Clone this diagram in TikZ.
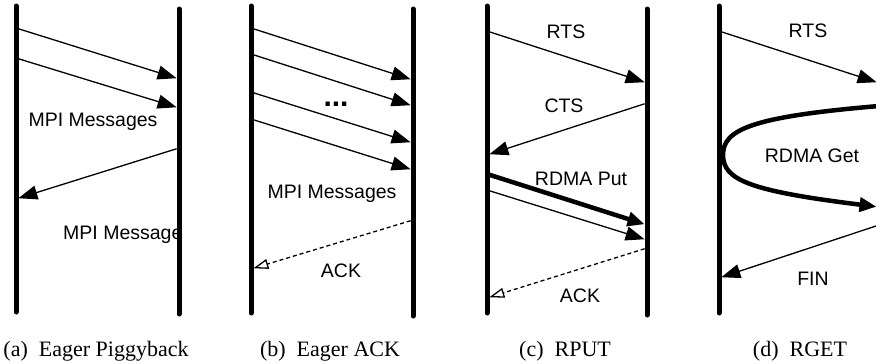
\documentclass[tikz,border=0pt]{standalone}
\usepackage{fontspec}
\setmainfont{Liberation Serif}
\setsansfont{Liberation Sans}
\usetikzlibrary{arrows.meta}

\tikzset{
  lifeline/.style={line width=5pt, line cap=round},
  msg/.style={line width=1.3pt, shorten <=2.5pt, shorten >=2.5pt,
    -{Triangle[length=19pt,width=14pt]}},
  bulk/.style={msg, line width=4.5pt, -{Triangle[length=17pt,width=14pt]}},
  ackmsg/.style={msg, dash pattern=on 4pt off 3pt,
    -{Triangle[open,length=15pt,width=10pt]}},
  lbl/.style={font=\sffamily\fontsize{19.5}{20}\selectfont, anchor=base, inner sep=0pt},
  capt/.style={font=\rmfamily\fontsize{22}{22}\selectfont, anchor=base, inner sep=0pt}
}

\begin{document}
\begin{tikzpicture}[x=1pt, y=-1pt]

    \useasboundingbox (0,0) rectangle (876,364);
    \clip (0,0) rectangle (876,364);

    % (a) eager piggyback
    \coordinate (aLt) at (16,6);   \coordinate (aLb) at (16,312);
    \coordinate (aRt) at (179,9);  \coordinate (aRb) at (179,314);
    \node[lbl] (aMsgs) at (93,126) {MPI Messages};
    \node[lbl, anchor=base west] (aMsg) at (63,239) {MPI Message};
    \draw[msg] (aLt |- 0,28) -- (aRt |- 0,79);
    \draw[msg] (aLt |- 0,58) -- (aRt |- 0,108);
    \draw[msg] (aRt |- 0,148) -- (aLt |- 0,199);
    \draw[lifeline] (aLt) -- (aLb);
    \draw[lifeline] (aRt) -- (aRb);
    \node[capt] (aCap) at (96,356) {(a)~ Eager Piggyback};

    % (b) eager ack
    \coordinate (bLt) at (251,6);  \coordinate (bLb) at (251,313);
    \coordinate (bRt) at (413,9);  \coordinate (bRb) at (413,316);
    \node[lbl, font=\sffamily\bfseries\fontsize{30}{30}\selectfont] (bDots) at (336,106) {...};
    \node[lbl] (bMsgs) at (332,198) {MPI Messages};
    \node[lbl] (bAck) at (341,277) {ACK};
    \draw[msg] (bLt |- 0,28) -- (bRt |- 0,80);
    \draw[msg] (bLt |- 0,54) -- (bRt |- 0,106);
    \draw[msg] (bLt |- 0,92) -- (bRt |- 0,143);
    \draw[msg] (bLt |- 0,119) -- (bRt |- 0,170);
    \draw[ackmsg] (bRt |- 0,220) -- (bLt |- 0,269);
    \draw[lifeline] (bLt) -- (bLb);
    \draw[lifeline] (bRt) -- (bRb);
    \node[capt] (bCap) at (330,356) {(b)~ Eager ACK};

    % (c) rput
    \coordinate (cLt) at (487,6);  \coordinate (cLb) at (487,313);
    \coordinate (cRt) at (647,9);  \coordinate (cRb) at (647,315);
    \node[lbl] (cRts) at (566,38) {RTS};
    \node[lbl] (cCts) at (564,112) {CTS};
    \node[lbl] (cPut) at (581,185) {RDMA Put};
    \node[lbl] (cAck) at (580,302) {ACK};
    \draw[msg] (cLt |- 0,31) -- (cRt |- 0,83);
    \draw[msg] (cRt |- 0,103) -- (cLt |- 0,155);
    \draw[bulk] (cLt |- 0,174) -- (cRt |- 0,225);
    \draw[msg] (cLt |- 0,190) -- (cRt |- 0,240);
    \draw[ackmsg] (cRt |- 0,248) -- (cLt |- 0,298);
    \draw[lifeline] (cLt) -- (cLb);
    \draw[lifeline] (cRt) -- (cRb);
    \node[capt] (cCap) at (565,356) {(c)~ RPUT};

    % (d) rget
    \coordinate (dLt) at (719,6);  \coordinate (dLb) at (719,313);
    \coordinate (dRt) at (879,9);  \coordinate (dRb) at (879,316);
    \coordinate (dTurn) at (723,155);
    \node[lbl] (dRts) at (808,37) {RTS};
    \node[lbl] (dGet) at (812,162) {RDMA Get};
    \node[lbl] (dFin) at (813,285) {FIN};
    \draw[msg] (dLt |- 0,31) -- (dRt |- 0,83);
    \draw[bulk] (dRt |- 0,106) .. controls (750,117) and (723,130) .. (dTurn)
        .. controls (723,180) and (750,191) .. (dRt |- 0,207);
    \draw[msg] (dRt |- 0,225) -- (dLt |- 0,278);
    \draw[lifeline] (dLt) -- (dLb);
    \draw[lifeline] (dRt) -- (dRb);
    \node[capt] (dCap) at (800,356) {(d)~ RGET};

\end{tikzpicture}
\end{document}
